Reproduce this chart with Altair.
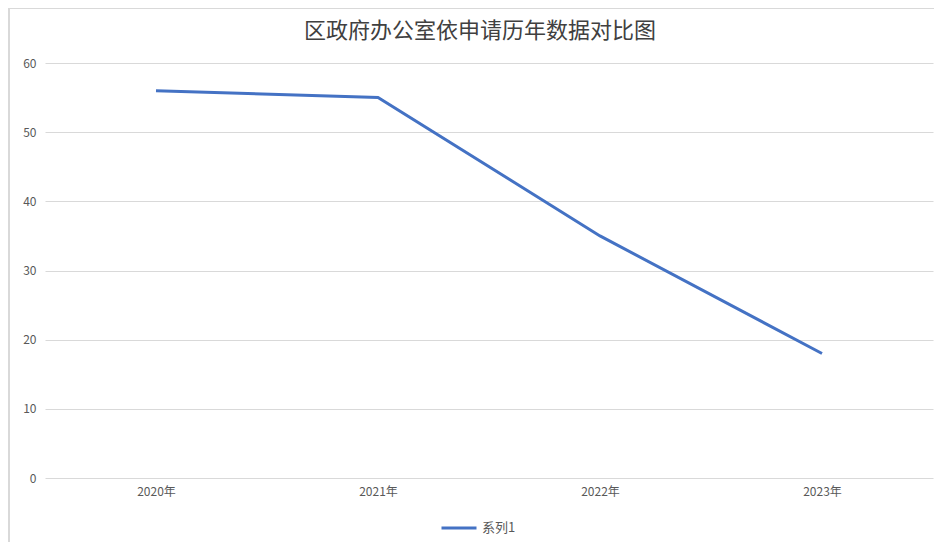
import altair as alt
import pandas as pd

years = ["2020年", "2021年", "2022年", "2023年"]
values = [56, 55, 35, 18]
series = ["系列1"] * 4

df = pd.DataFrame({"year": years, "value": values, "series": series})

W, H = 888, 415

line = alt.Chart(df).mark_line(strokeWidth=3).encode(
    x=alt.X("year:N", sort=years, title=None,
            scale=alt.Scale(type="point", padding=0.5),
            axis=alt.Axis(labelAngle=0, ticks=False, domain=False, grid=False,
                          labelPadding=8, labelFontSize=12, labelColor="#595959",
                          labelFont="Noto Sans CJK SC")),
    y=alt.Y("value:Q", title=None,
            scale=alt.Scale(domain=[0, 60]),
            axis=alt.Axis(values=[0, 10, 20, 30, 40, 50, 60], ticks=False, domain=False,
                          gridColor="#d9d9d9", gridWidth=1, labelPadding=9,
                          labelFontSize=12, labelColor="#595959", labelFont="Noto Sans CJK SC")),
    color=alt.Color("series:N", scale=alt.Scale(range=["#4472C4"]),
                    legend=alt.Legend(title=None, orient="none", legendX=395, legendY=446,
                                      direction="horizontal", padding=0,
                                      symbolType="stroke", symbolSize=1225, symbolStrokeWidth=3,
                                      labelFontSize=13, labelColor="#595959",
                                      labelFont="Noto Sans CJK SC")),
)

left_rule = alt.Chart(df).mark_rule(color="#d9d9d9", strokeWidth=1.5).encode(
    x=alt.value(-36), y=alt.value(-55), y2=alt.value(H + 80)
)
top_rule = alt.Chart(df).mark_rule(color="#d9d9d9", strokeWidth=1.5).encode(
    x=alt.value(-36), x2=alt.value(W + 10), y=alt.value(-55)
)

chart = alt.layer(left_rule, top_rule, line).properties(
    width=W, height=H,
    title=alt.TitleParams("区政府办公室依申请历年数据对比图", fontSize=22, font="Noto Sans CJK SC",
                          fontWeight="normal", color="#404040", offset=-36, dx=-9, anchor="middle"),
    autosize=alt.AutoSizeParams(type="none"),
    padding={"left": 37, "top": 55, "right": 1, "bottom": 70},
).configure(background="white").configure_view(stroke=None)

chart.save("out.html", embed_options={"renderer": "svg", "actions": False})
